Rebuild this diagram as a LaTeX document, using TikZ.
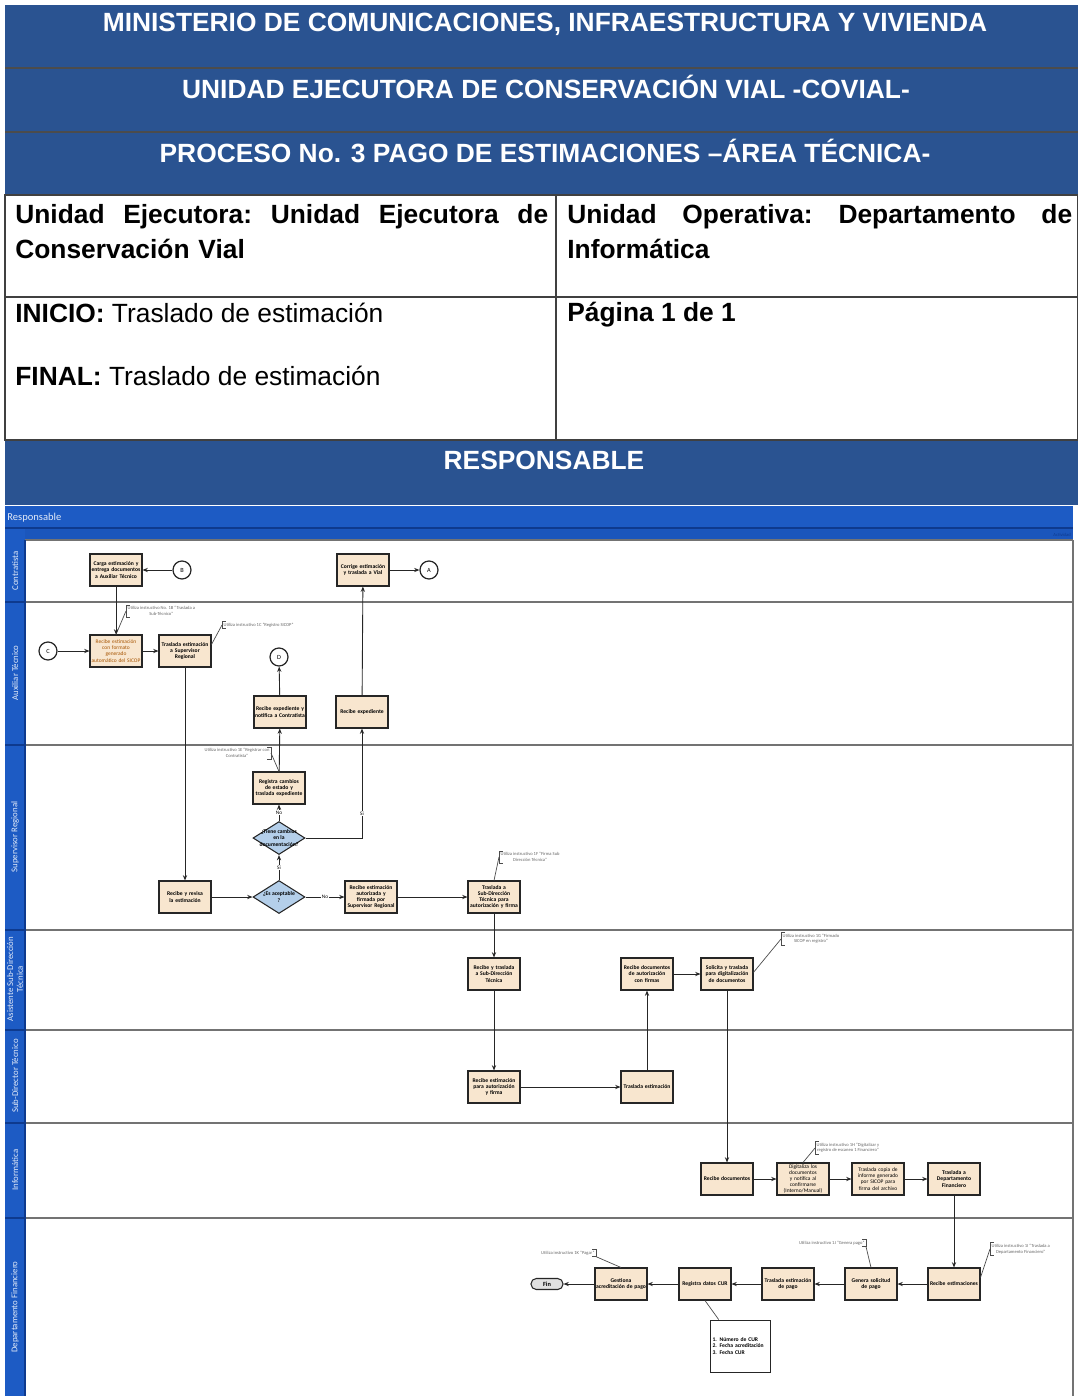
\documentclass[tikz,border=0pt]{standalone}
\usepackage{fontspec}
\setmainfont{Liberation Sans}
\newfontfamily\diagfont{Carlito}
\usetikzlibrary{arrows.meta, shapes.geometric, positioning, calc}

\definecolor{bannerblue}{HTML}{2A5391}
\definecolor{poolblue}{HTML}{1D5BC4}
\definecolor{pooldark}{HTML}{0E3A8E}
\definecolor{taskfill}{HTML}{F8E6CF}
\definecolor{gatefill}{HTML}{B4CFEA}

\hyphenpenalty=10000
\exhyphenpenalty=10000

\begin{document}
\begin{tikzpicture}[x=0.02cm, y=-0.02cm,
    task/.style={draw=black!85, line width=0.6pt, fill=taskfill,
      minimum width=1.04cm, minimum height=0.64cm, text width=1.0cm,
      align=center, inner sep=0.3pt, font=\diagfont\fontsize{3.2}{3.55}\selectfont\bfseries},
    gate/.style={diamond, draw=black!85, line width=0.6pt, fill=gatefill,
      minimum width=1.04cm, minimum height=0.66cm, inner sep=0pt},
    gatetxt/.style={align=center, inner sep=0pt,
      font=\diagfont\fontsize{3.2}{3.6}\selectfont\bfseries},
    link/.style={circle, draw=black!85, line width=0.7pt, fill=white,
      minimum size=0.36cm, inner sep=0pt, font=\diagfont\fontsize{3.6}{4}\selectfont},
    flow/.style={draw=black!85, line width=0.5pt, -{Stealth[length=3pt,width=2.4pt]}},
    note/.style={text=black!60, align=center, inner sep=0.7pt,
      font=\diagfont\fontsize{2.6}{3.1}\selectfont},
    notebr/.style={draw=black!70, line width=0.4pt},
    lane/.style={rotate=90, text=white!88!poolblue, align=center,
      font=\diagfont\fontsize{5}{5.6}\selectfont},
    head/.style={text=white, font=\fontsize{15}{18}\selectfont\bfseries},
    cell/.style={anchor=west, inner sep=0pt, font=\fontsize{15}{20}\selectfont},
    tlab/.style={inner sep=0.4pt, fill=white, font=\diagfont\fontsize{3}{3.4}\selectfont},
]
\useasboundingbox (0,0) rectangle (1078,1396);

% Header banners
\fill[bannerblue] (5,5) rectangle (1078,195);
\fill[bannerblue] (5,440) rectangle (1078,505);
\draw[black!70, line width=1pt] (5,68) -- (1078,68) (5,132) -- (1078,132);
\node[head] (title1) at (545,24) {MINISTERIO DE COMUNICACIONES, INFRAESTRUCTURA Y VIVIENDA};
\node[head] (title2) at (546,87) {UNIDAD EJECUTORA DE CONSERVACIÓN VIAL -COVIAL-};
\node[head] (title3) at (545,151) {PROCESO No. 3 PAGO DE ESTIMACIONES –ÁREA TÉCNICA-};

% Data table
\draw[black!75, line width=0.7pt] (5,195) rectangle (1078,440);
\draw[black!75, line width=0.7pt] (5,297) -- (1078,297) (556,195) -- (556,440);
\node[cell, anchor=north west, text width=10.66cm, align=left] (ejec) at (15,204)
  {\textbf{Unidad\hfill Ejecutora:\hfill Unidad\hfill Ejecutora\hfill de}\\\textbf{Conservación Vial}};
\node[cell, anchor=north west, text width=10.1cm, align=left] (oper) at (567,204)
  {\textbf{Unidad\hfill Operativa:\hfill Departamento\hfill de}\\\textbf{Informática}};
\node[cell] (inicio) at (15,313) {\textbf{INICIO:} Traslado de estimación};
\node[cell] (final) at (15,376) {\textbf{FINAL:} Traslado de estimación};
\node[cell] (pagina) at (567,315) {\textbf{Página 1 de 1}};
\node[head] (resp) at (544,460) {RESPONSABLE};

% Pool header
\fill[poolblue] (5,506) rectangle (1073,540);
\fill[poolblue!85!pooldark] (25,529) rectangle (1073,540);
\draw[pooldark, line width=0.8pt] (5,528) -- (1073,528);
\fill[poolblue] (5,540) rectangle (25,1396);
\node[anchor=west, inner sep=0pt, text=white!88!poolblue,
  font=\diagfont\fontsize{6}{7}\selectfont] (pool) at (7,518) {Responsable};
\node[anchor=east, inner sep=0pt, text=pooldark,
  font=\diagfont\fontsize{2.6}{3}\selectfont] (actividad) at (1071,535) {Actividad};

% Swimlanes
\draw[black!55, line width=0.8pt] (25,540) -- (1073,540);
\foreach \y in {602,745,930,1030,1123,1218} {
  \draw[black!55, line width=0.9pt] (25,\y) -- (1073,\y);
  \draw[pooldark, line width=0.9pt] (5,\y) -- (25,\y);
}
\draw[black!55, line width=0.8pt] (1073,540) -- (1073,1396);
\draw[pooldark, line width=0.6pt] (25,540) -- (25,1396);

\node[lane] (lane1) at (15,571) {Contratista};
\node[lane] (lane2) at (15,673) {Auxiliar Técnico};
\node[lane] (lane3) at (15,837) {Supervisor Regional};
\node[lane] (lane4) at (15,979) {Asistente Sub-Dirección\\Técnica};
\node[lane] (lane5) at (15,1076) {Sub-Director Técnico};
\node[lane] (lane6) at (15,1170) {Informática};
\node[lane] (lane7) at (15,1307) {Departamento Financiero};

% Contratista
\node[task] (A1) at (116,570) {Carga estimación y entrega documentos a Auxiliar Técnico};
\node[link] (lkB) at (182,570) {B};
\node[task] (A2) at (363,570) {Corrige estimación y traslada a Vial};
\node[link] (lkA) at (429,570) {A};

% Auxiliar Tecnico
\node[link] (lkC) at (48,651) {C};
\node[task, text=orange!65!black, font=\diagfont\fontsize{3.1}{3.5}\selectfont] (B1) at (116,651)
  {Recibe estimación con formato generado automático del SICOP};
\node[task] (B2) at (185,651) {Traslada estimación a Supervisor Regional};
\node[link] (lkD) at (279,657) {D};
\node[task] (B3) at (280,712) {Recibe expediente y notifica a Contratista};
\node[task] (B4) at (362,712) {Recibe expediente};

% Supervisor Regional
\node[task] (C1) at (279,788) {Registra cambios de estado y traslada expediente};
\node[gate, label={[gatetxt]center:{¿Tiene cambios\\en la\\documentación?}}] (D1) at (279,838) {};
\node[task] (C2) at (185,897) {Recibe y revisa la estimación};
\node[gate, label={[gatetxt]center:{¿Es aceptable\\?}}] (D2) at (279,897) {};
\node[task] (C3) at (371,897) {Recibe estimación autorizada y firmada por Supervisor Regional};
\node[task] (C4) at (494,897) {Traslada a Sub-Dirección Técnica para autorización y firma};

% Asistente Sub-Direccion Tecnica
\node[task] (E1) at (494,974) {Recibe y traslada a Sub-Dirección Técnica};
\node[task] (E2) at (647,974) {Recibe documentos de autorización con firmas};
\node[task] (E3) at (727,974) {Solicita y traslada para digitalización de documentos};

% Sub-Director Tecnico
\node[task] (F1) at (494,1087) {Recibe estimación para autorización y firma};
\node[task] (F2) at (647,1087) {Traslada estimación};

% Informatica
\node[task] (G1) at (727,1179) {Recibe documentos};
\node[task, font=\diagfont\fontsize{3.1}{3.5}\selectfont] (G2) at (803,1179)
  {Digitaliza los documentos y notifica al confirmarse (Interno/Manual)};
\node[task, font=\diagfont\fontsize{3.1}{3.5}\selectfont] (G3) at (878,1179)
  {Traslada copia de informe generado por SICOP para firma del archivo};
\node[task] (G4) at (954,1179) {Traslada a Departamento Financiero};

% Departamento Financiero
\node[task] (H1) at (954,1284) {Recibe estimaciones};
\node[task] (H2) at (871,1284) {Genera solicitud de pago};
\node[task] (H3) at (788,1284) {Traslada estimación de pago};
\node[task] (H4) at (705,1284) {Registra datos CUR};
\node[task] (H5) at (621,1284) {Gestiona acreditación de pago};
\node[draw=black!85, line width=0.6pt, fill=black!12, rounded corners=3pt,
  minimum width=0.64cm, minimum height=0.22cm, inner sep=0pt,
  font=\diagfont\fontsize{3.6}{4}\selectfont\bfseries] (fin) at (547,1284) {Fin};
\node[draw=black!85, line width=0.5pt, fill=white, minimum width=1.2cm,
  minimum height=1.04cm, text width=1.1cm, align=left, inner sep=0pt,
  font=\diagfont\fontsize{3.2}{3.8}\selectfont\bfseries] (cur) at (740,1346)
  {1. Número de CUR\\2. Fecha acreditación\\3. Fecha CUR};

% Annotations
\node[note, anchor=west] (n1) at (126,611) {Utiliza instructivo No. 1B “Traslada a\\Sub-Técnico”};
\node[note, anchor=west] (n2) at (222,625) {Utiliza instructivo 1C “Registro SICOP”};
\node[note, anchor=east] (n3) at (271,753) {Utiliza instructivo 1E “Registrar con\\Contratista”};
\node[note, anchor=west] (n4) at (499,857) {Utiliza instructivo 1F “Firma Sub\\Dirección Técnica”};
\node[note, anchor=west] (n5) at (781,939) {Utiliza instructivo 1G “Firmado\\SICOP en registro”};
\node[note, anchor=west] (n6) at (815,1148) {Utiliza instructivo 1H “Digitalizar y\\registro de escaneo 1 Financiero”};
\node[note, anchor=west] (n7) at (990,1249) {Utiliza instructivo 1I “Traslada a\\Departamento Financiero”};
\node[note, anchor=east] (n8) at (866,1243) {Utiliza instructivo 1J “Genera pago”};
\node[note, anchor=east] (n9) at (596,1253) {Utiliza instructivo 1K “Pagar”};

\foreach \n in {n1,n2,n4,n5,n6,n7}
  \draw[notebr] ([xshift=2pt]\n.north west) -- (\n.north west) -- (\n.south west) -- ([xshift=2pt]\n.south west);
\foreach \n in {n3,n8,n9}
  \draw[notebr] ([xshift=-2pt]\n.north east) -- (\n.north east) -- (\n.south east) -- ([xshift=-2pt]\n.south east);

\draw[notebr] (n1.west) -- (B1.north);
\draw[notebr] (n2.west) -- ($(B2.north east)!0.3!(B2.south east)$);
\draw[notebr] (n3.east) -- (C1.north);
\draw[notebr] (n4.west) -- (C4.north);
\draw[notebr] (n5.west) -- ($(E3.north east)!0.45!(E3.south east)$);
\draw[notebr] (n6.west) -- (G2.north);
\draw[notebr] (n7.west) -- ($(H1.north east)!0.3!(H1.south east)$);
\draw[notebr] (n8.south east) -- (H2.north);
\draw[notebr] (n9.south east) -- (H5.north);
\draw[notebr] (H4.south) -- ($(cur.north west)!0.15!(cur.north east)$);

% Flow
\draw[flow] (lkB) -- (A1);
\draw[flow] (A1) -- (B1);
\draw[flow] (lkC) -- (B1);
\draw[flow] (B1) -- (B2);
\draw[flow] (B2) -- (C2);
\draw[flow] (C2) -- (D2);
\draw[flow] (D2) -- node[tlab] {No} (C3);
\draw[flow] (D2) -- node[tlab] {Si} (D1);
\draw[flow] (D1) -- node[tlab] {No} (C1);
\draw[flow] (D1.east) -| node[tlab, pos=0.61] {Si} (B4.south);
\draw[flow] (C1) -- (B3);
\draw[flow] (B3) -- (lkD);
\draw[flow] (B4) -- (A2);
\draw[flow] (A2) -- (lkA);
\draw[flow] (C3) -- (C4);
\draw[flow] (C4) -- (E1);
\draw[flow] (E1) -- (F1);
\draw[flow] (F1) -- (F2);
\draw[flow] (F2) -- (E2);
\draw[flow] (E2) -- (E3);
\draw[flow] (E3) -- (G1);
\draw[flow] (G1) -- (G2);
\draw[flow] (G2) -- (G3);
\draw[flow] (G3) -- (G4);
\draw[flow] (G4) -- (H1);
\draw[flow] (H1) -- (H2);
\draw[flow] (H2) -- (H3);
\draw[flow] (H3) -- (H4);
\draw[flow] (H4) -- (H5);
\draw[flow] (H5) -- (fin);
\end{tikzpicture}
\end{document}
